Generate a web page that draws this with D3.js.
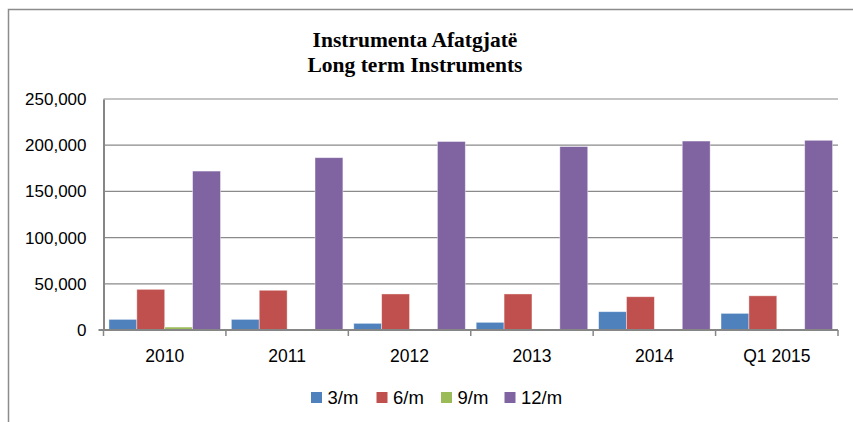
<!DOCTYPE html>
<html lang="en">
<head>
<meta charset="utf-8">
<style>
    body { margin: 0; background: #fff; }
    svg text { font-family: "Liberation Sans", Arial, sans-serif; fill: #000; }
    .title { font-family: "Liberation Serif", "Times New Roman", serif; font-weight: bold; font-size: 21.5px; }
    .grid line { stroke: #8a8a8a; stroke-width: 1.2; }
</style>
<script src="https://d3js.org/d3.v7.min.js"></script>
</head>
<body>
<svg width="853" height="422"></svg>
<script>
    // data
    var years = ["2010", "2011", "2012", "2013", "2014", "Q1 2015"];
    var seriesNames = ["3/m", "6/m", "9/m", "12/m"];
    var m3 = [11500, 11500, 7200, 8300, 19800, 18000];
    var m6 = [44000, 43000, 39000, 39000, 36000, 37000];
    var m9 = [3200, 0, 0, 0, 0, 0];
    var m12 = [172000, 186500, 204000, 198500, 204500, 205300];
    var yTicks = [0, 50000, 100000, 150000, 200000, 250000];
    var colors = ["#4F81BD", "#C0504D", "#9BBB59", "#8064A2"];

    var allSeries = [m3, m6, m9, m12];

    var svg = d3.select("svg");
    var plotLeft = 103.5, plotRight = 838, plotTop = 99, plotBottom = 330;

    // outer chart frame (cropped on the right and bottom)
    svg.append("path")
        .attr("d", "M8.5,422 L8.5,9.5 L853,9.5")
        .attr("fill", "none")
        .attr("stroke", "#8c8c8c")
        .attr("stroke-width", 1.5);

    svg.append("text").attr("class", "title")
        .attr("x", 415).attr("y", 47).attr("text-anchor", "middle")
        .text("Instrumenta Afatgjatë");
    svg.append("text").attr("class", "title")
        .attr("x", 415).attr("y", 72).attr("text-anchor", "middle")
        .text("Long term Instruments");

    var x0 = d3.scaleBand().domain(years).range([plotLeft, plotRight]).paddingInner(0).paddingOuter(0);
    var x1 = d3.scaleBand().domain(seriesNames).range([0, x0.bandwidth()]).paddingOuter(0.195).paddingInner(0);
    var y = d3.scaleLinear().domain([0, 250000]).range([plotBottom, plotTop]);

    // gridlines
    svg.append("g").attr("class", "grid")
        .selectAll("line").data(yTicks.slice(1)).enter().append("line")
        .attr("x1", plotLeft).attr("x2", plotRight)
        .attr("y1", function(d) { return y(d); })
        .attr("y2", function(d) { return y(d); });

    // y axis
    var yAxis = svg.append("g")
        .attr("transform", "translate(" + plotLeft + ",0)")
        .call(d3.axisLeft(y).tickValues(yTicks).tickSize(0).tickPadding(17)
            .tickFormat(d3.format(",")));
    yAxis.select(".domain").attr("stroke", "#868686").attr("stroke-width", 2);
    yAxis.selectAll("text").attr("font-size", 17).attr("font-family", "Liberation Sans");

    // bars
    var groups = svg.selectAll(".year").data(years).enter().append("g")
        .attr("class", "year")
        .attr("transform", function(d) { return "translate(" + x0(d) + ",0)"; });

    groups.selectAll("rect")
        .data(function(d, i) {
            return seriesNames.map(function(s, j) { return { s: s, v: allSeries[j][i], c: colors[j] }; });
        })
        .enter().append("rect")
        .attr("x", function(d) { return x1(d.s); })
        .attr("width", x1.bandwidth())
        .attr("y", function(d) { return y(d.v); })
        .attr("height", function(d) { return plotBottom - y(d.v); })
        .attr("fill", function(d) { return d.c; })
        .attr("stroke", "#fff")
        .attr("stroke-opacity", 0.5)
        .attr("stroke-width", 0.8);

    // x axis
    var xAxis = svg.append("g")
        .attr("transform", "translate(0," + plotBottom + ")")
        .call(d3.axisBottom(x0).tickSize(0).tickPadding(20));
    xAxis.select(".domain").remove();
    xAxis.selectAll("text").attr("font-size", 17.5).attr("font-family", "Liberation Sans");
    svg.append("line")
        .attr("x1", plotLeft - 5).attr("x2", plotRight)
        .attr("y1", plotBottom).attr("y2", plotBottom)
        .attr("stroke", "#868686").attr("stroke-width", 2);
    svg.selectAll(".xtick").data(years.concat(["end"])).enter().append("line")
        .attr("class", "xtick")
        .attr("x1", function(d) { return d === "end" ? plotRight : x0(d); })
        .attr("x2", function(d) { return d === "end" ? plotRight : x0(d); })
        .attr("y1", plotBottom).attr("y2", plotBottom + 6)
        .attr("stroke", "#868686").attr("stroke-width", 1.5);

    // legend
    var legendX = [311, 376.5, 441, 504.5];
    var legend = svg.selectAll(".legend").data(seriesNames).enter().append("g")
        .attr("class", "legend")
        .attr("transform", function(d, i) { return "translate(" + legendX[i] + ",392)"; });
    legend.append("rect").attr("width", 11).attr("height", 11)
        .attr("fill", function(d, i) { return colors[i]; });
    legend.append("text").attr("x", 16.5).attr("y", 12)
        .attr("font-size", 18.5)
        .text(function(d) { return d; });
</script>
</body>
</html>
